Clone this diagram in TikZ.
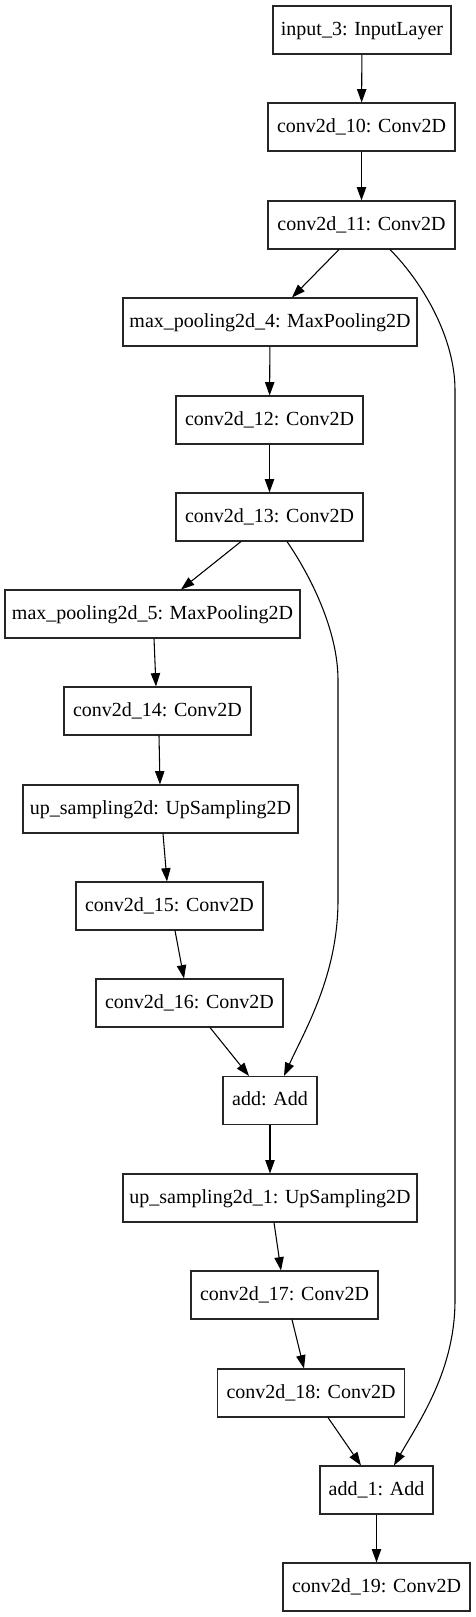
\documentclass[tikz,border=0pt]{standalone}
\usepackage{fontspec}
\setmainfont{Liberation Serif}
\usetikzlibrary{arrows.meta,calc}
\begin{document}
\begin{tikzpicture}[x=0.75pt,y=-0.75pt,
  layer/.style={draw=black!85,line width=0.8pt,inner sep=0pt,minimum height=36pt,
    text height=10.5pt,text depth=3pt,font=\fontsize{15}{17}\selectfont},
  conv/.style={layer,minimum width=140.25pt},
  edge/.style={draw=black,line width=0.8pt,-{Triangle[length=10pt,width=7pt]}}]
\useasboundingbox (0,0) rectangle (475,1617);
\node[layer,minimum width=133.5pt] (in3) at (362,30) {input\_3: InputLayer};
\node[conv] (c10) at (361.5,127) {conv2d\_10: Conv2D};
\node[conv] (c11) at (361.5,225) {conv2d\_11: Conv2D};
\node[layer,minimum width=220.5pt] (mp4) at (270,322) {max\_pooling2d\_4: MaxPooling2D};
\node[conv] (c12) at (269.5,420) {conv2d\_12: Conv2D};
\node[conv] (c13) at (269.5,517) {conv2d\_13: Conv2D};
\node[layer,minimum width=221.25pt] (mp5) at (152.5,614) {max\_pooling2d\_5: MaxPooling2D};
\node[conv] (c14) at (157.5,711) {conv2d\_14: Conv2D};
\node[layer,minimum width=206.25pt] (up) at (160.5,809) {up\_sampling2d: UpSampling2D};
\node[conv] (c15) at (169.5,906) {conv2d\_15: Conv2D};
\node[conv] (c16) at (189.5,1003) {conv2d\_16: Conv2D};
\node[layer,minimum width=70.5pt] (add) at (270,1100.5) {add: Add};
\node[layer,minimum width=220.5pt] (up1) at (270,1198) {up\_sampling2d\_1: UpSampling2D};
\node[conv] (c17) at (284.5,1295) {conv2d\_17: Conv2D};
\node[conv] (c18) at (311,1393) {conv2d\_18: Conv2D};
\node[layer,minimum width=84.75pt] (add1) at (376.5,1490) {add\_1: Add};
\node[conv] (c19) at (376.5,1587) {conv2d\_19: Conv2D};

\draw[edge] (in3) -- (c10);
\draw[edge] (c10) -- (c11);
\draw[edge] ($(c11.south)+(-22.5,0)$) -- ($(mp4.north)+(22,0)$);
\draw[edge] (mp4) -- (c12);
\draw[edge] (c12) -- (c13);
\draw[edge] ($(c13.south)+(-28.5,0)$) -- ($(mp5.north)+(28.5,0)$);
\draw[edge] ($(mp5.south)+(1.5,0)$) -- ($(c14.north)+(-1.5,0)$);
\draw[edge] ($(c14.south)+(1.5,0)$) -- ($(up.north)+(-0.5,0)$);
\draw[edge] ($(up.south)+(2.5,0)$) -- ($(c15.north)+(-2.5,0)$);
\draw[edge] ($(c15.south)+(5.5,0)$) -- ($(c16.north)+(-5.5,0)$);
\draw[edge] ($(c16.south)+(20.5,0)$) -- ($(add.north)+(-21,0)$);
\draw[edge] (add) -- (up1);
\draw[edge] ($(up1.south)+(4,0)$) -- ($(c17.north)+(-3.5,0)$);
\draw[edge] ($(c17.south)+(7.5,0)$) -- ($(c18.north)+(-7,0)$);
\draw[edge] ($(c18.south)+(17,0)$) -- ($(add1.north)+(-15.5,0)$);
\draw[edge] (add1) -- (c19);

\coordinate (s1a) at (455,390);
\coordinate (s1b) at (455,1300);
\draw[edge] ($(c11.south)+(28.5,0)$) .. controls (425,285) and (455,340) .. (s1a)
  -- (s1b) .. controls (455,1370) and (420,1420) .. ($(add1.north)+(17.5,0)$);
\coordinate (s2a) at (338,680);
\coordinate (s2b) at (338,900);
\draw[edge] ($(c13.south)+(17.5,0)$) .. controls (310,575) and (338,630) .. (s2a)
  -- (s2b) .. controls (338,975) and (305,1030) .. ($(add.north)+(14,0)$);
\end{tikzpicture}
\end{document}
